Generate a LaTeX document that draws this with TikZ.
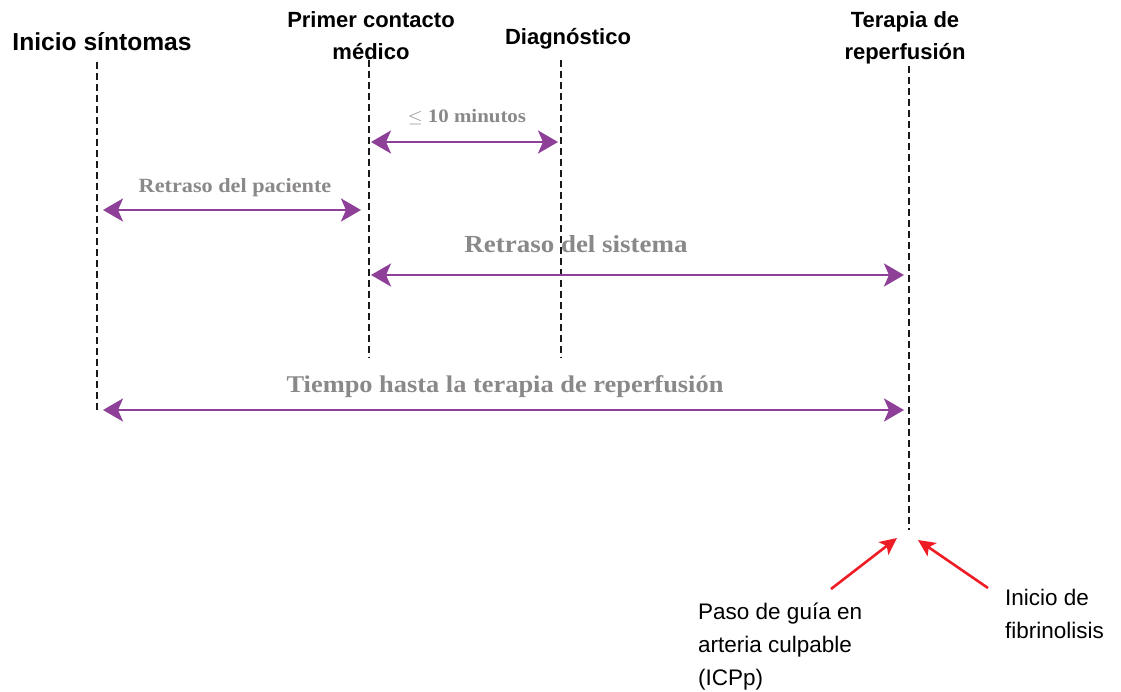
\documentclass[tikz,border=0pt]{standalone}
\usepackage{fontspec}
\setmainfont{Liberation Serif}
\setsansfont{Liberation Sans}
\usetikzlibrary{arrows.meta}
\definecolor{purp}{HTML}{8E3F98}
\definecolor{graytxt}{HTML}{8A8888}
\definecolor{redarr}{HTML}{EE1C25}
\newcommand{\gtext}[2]{\scalebox{1.1}[1]{\fontsize{#1}{#1}\selectfont #2}}
\tikzset{
  head/.style={font=\sffamily\bfseries\fontsize{22}{32}\selectfont, align=center, inner sep=0pt},
  note/.style={font=\sffamily\fontsize{22.5}{33}\selectfont, align=left, inner sep=0pt, anchor=north west},
  glab/.style={font=\rmfamily\bfseries, text=graytxt, inner sep=0pt},
  vline/.style={dash pattern=on 7pt off 4pt, line width=2.8pt, black!90},
  span/.style={draw=purp, line width=2.8pt, {Stealth[length=20pt,width=23pt,inset=5pt]}-{Stealth[length=20pt,width=23pt,inset=5pt]}},
  redpt/.style={draw=redarr, line width=2.6pt, -{Stealth[length=17pt,width=16pt,inset=4pt]}}
}
\begin{document}
\begin{tikzpicture}[x=1pt,y=-1pt]
\useasboundingbox (0,0) rectangle (1121,691);
% vertical time lines
\coordinate (a1) at (97,62);   \coordinate (a2) at (97,413);
\coordinate (b1) at (369,60);  \coordinate (b2) at (369,358);
\coordinate (c1) at (561,60);  \coordinate (c2) at (561,358);
\coordinate (d1) at (909,66);  \coordinate (d2) at (909,530);
\draw[vline] (a1) -- (a2);
\draw[vline] (b1) -- (b2);
\draw[vline] (c1) -- (c2);
\draw[vline] (d1) -- (d2);
% headers
\node[head, font=\sffamily\bfseries\fontsize{24.6}{30}\selectfont] (hA) at (102,42) {Inicio síntomas};
\node[head] (hB) at (371,36) {Primer contacto\\médico};
\node[head] (hC) at (568,39) {Diagnóstico};
\node[head] (hD) at (905,38) {Terapia de\\reperfusión};
% spans
\coordinate (s1l) at (371,142); \coordinate (s1r) at (558,142);
\coordinate (s2l) at (103,210); \coordinate (s2r) at (361,210);
\coordinate (s3l) at (371,275); \coordinate (s3r) at (904,275);
\coordinate (s4l) at (103,410); \coordinate (s4r) at (904,410);
\draw[span] (s1l) -- (s1r);
\draw[span] (s2l) -- (s2r);
\draw[span] (s3l) -- (s3r);
\draw[span] (s4l) -- (s4r);
\node[glab] (l1) at (467,117) {\gtext{19}{$\leq$ 10 minutos}};
\node[glab] (l2) at (235,188) {\gtext{20.2}{Retraso del paciente}};
\node[glab] (l3) at (576,244) {\gtext{24.5}{Retraso del sistema}};
\node[glab] (l4) at (505,387) {\gtext{24}{Tiempo hasta la terapia de reperfusión}};
% bottom notes
\node[note] (nA) at (698,603) {Paso de guía en\\arteria culpable\\(ICPp)};
\node[note] (nB) at (1005,589) {Inicio de\\fibrinolisis};
\coordinate (tA) at (897,538);
\coordinate (tB) at (918,540);
\coordinate (fA) at (831,589);
\coordinate (fB) at (988,588);
\draw[redpt] (fA) -- (tA);
\draw[redpt] (fB) -- (tB);
\end{tikzpicture}
\end{document}
